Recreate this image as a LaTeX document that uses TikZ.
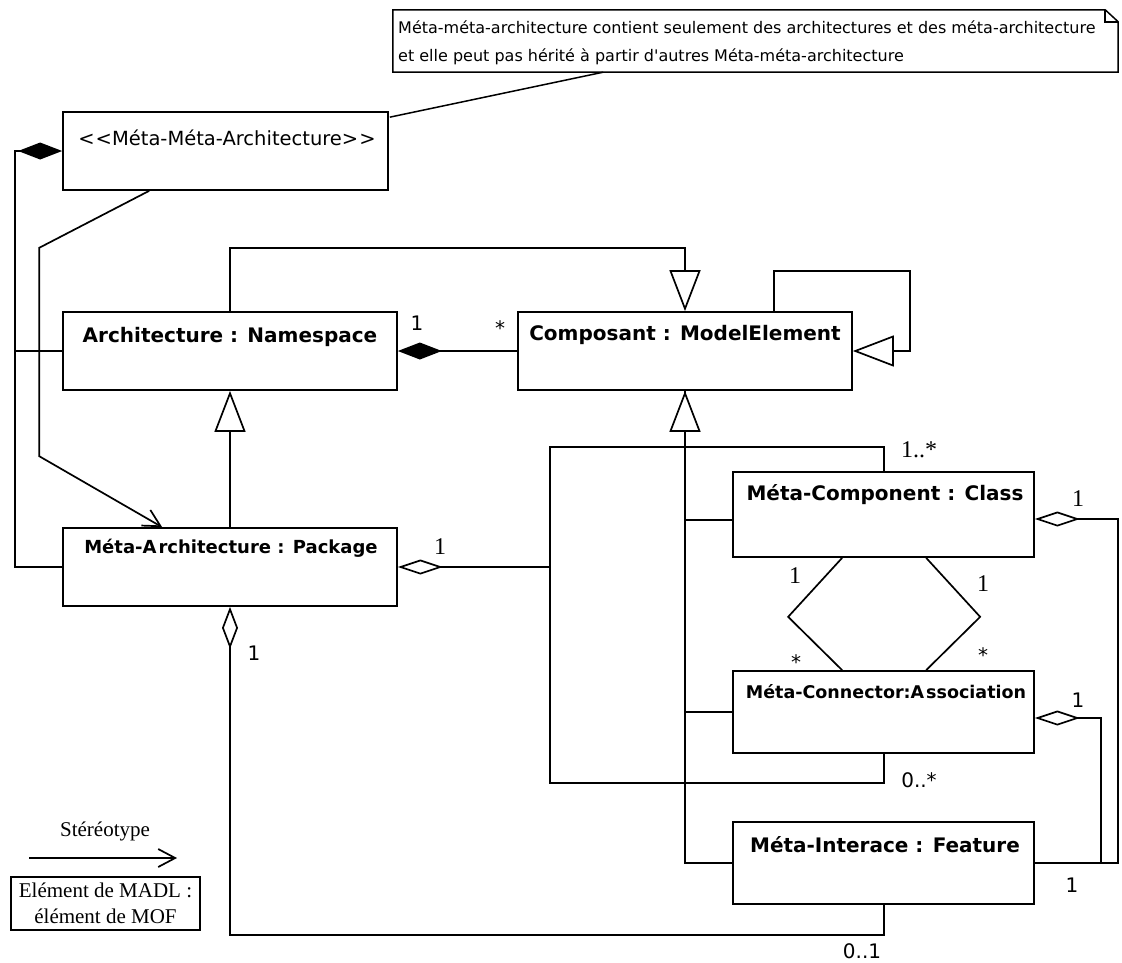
\documentclass[tikz,border=0pt]{standalone}
\usepackage{fontspec}
\newfontfamily\dv{DejaVu Sans}
\newfontfamily\tms{Liberation Serif}
\usetikzlibrary{arrows.meta,calc}
\begin{document}
\begin{tikzpicture}[x=1pt,y=-1pt,
  conn/.style={line width=1.7pt, line join=miter},
  box/.style={draw, line width=1.7pt, fill=white, inner sep=0pt},
  ttl/.style={inner sep=0pt, font=\dv\bfseries\fontsize{20}{24}\selectfont},
  ttls/.style={inner sep=0pt, font=\dv\bfseries\fontsize{17.5}{21}\selectfont},
  lbs/.style={inner sep=0pt, font=\dv\fontsize{20}{24}\selectfont},
  lbr/.style={inner sep=0pt, font=\tms\fontsize{24}{28}\selectfont},
  notet/.style={inner sep=0pt, font=\dv\fontsize{16}{19}\selectfont},
  inh/.style={conn, -{Triangle[length=41pt,width=31pt,fill=white]}},
  compo/.style={conn, {Diamond[length=44pt,width=17pt,fill=black]}-},
  aggr/.style={conn, {Diamond[length=45pt,width=15pt,fill=white]}-},
  aggrv/.style={conn, {Diamond[length=42pt,width=16pt,fill=white]}-},
  stereo/.style={conn, -{Straight Barb[length=17pt,width=18pt]}}
]
\useasboundingbox (0,0) rectangle (1122,962);

% note
\node[inner sep=0pt, minimum width=725, minimum height=62] (note) at (755.5,41) {};
\draw[line width=1.5pt] (note.north west) -- ($(note.north east)+(-13,0)$) -- ($(note.north east)+(0,12)$) -- (note.south east) -- (note.south west) -- cycle;
\draw[line width=1.5pt] ($(note.north east)+(-13,0)$) |- ($(note.north east)+(0,12)$);
\node[notet, anchor=base west] (noteL1) at (398,33) {Méta-méta-architecture contient seulement des architectures et des méta-architecture};
\node[notet, anchor=base west] (noteL2) at (398,61) {et elle peut pas hérité à partir d'autres Méta-méta-architecture};

% classes
\node[box, minimum width=325, minimum height=78] (mma) at (225.5,151) {};
\node[inner sep=0pt, font=\dv\fontsize{19.5}{23}\selectfont] (mmaT) at (227,138) {<\kern1pt<Méta-Méta-Architecture>\kern1pt>};

\node[box, minimum width=334, minimum height=78] (arch) at (230,351) {};
\node[ttl] (archT) at (230,337) {Architecture : Namespace};

\node[box, minimum width=334, minimum height=78] (comp) at (685,351) {};
\node[ttl] (compT) at (685,335) {Composant : ModelElement};

\node[box, minimum width=334, minimum height=78] (marc) at (230,567) {};
\node[inner sep=0pt, font=\dv\bfseries\fontsize{18}{22}\selectfont] (marcT) at (231,548) {Méta-A\kern2pt rchitecture : Package};

\node[box, minimum width=301, minimum height=85] (mcomp) at (883.5,514.5) {};
\node[ttl] (mcompT) at (885,495) {Méta-Component : Class};

\node[box, minimum width=301, minimum height=82] (mconn) at (883.5,712) {};
\node[ttls] (mconnT) at (886,692) {Méta-Connector:A\kern2pt ssociation};

\node[box, minimum width=301, minimum height=82] (mint) at (883.5,863) {};
\node[ttl] (mintT) at (885,845) {Méta-Interace : Feature};

% note link
\draw[line width=1.5pt] ($(note.south west)!0.29!(note.south east)$) -- ($(mma.north east)+(1,6)$);

% composition rail from MMA
\coordinate (railTop) at (15,151);
\draw[compo] (mma.west) -- (railTop) |- (marc.west);
\draw[conn] (railTop |- arch.west) -- (arch.west);

% stereotype link
\draw[stereo] ($(mma.south west)+(87,0)$) -- ($(mma.south west)+(-23,57)$) -- ($(marc.north west)+(-23,-71)$) -- ($(marc.north west)+(100,0)$);

% Architecture -> Composant
\draw[inh] (arch.north) -- ++(0,-63) -| (comp.north);
\draw[compo] (arch.east) -- (comp.west);
\node[lbs] (m1) at (417,323) {1};
\node[lbs] (m2) at (500,328) {*};

% self generalization
\draw[inh] ($(comp.north east)+(-79,0)$) |- ($(comp.north east)+(57,-40)$) |- (comp.east);

% Méta-Architecture -> Architecture
\draw[inh] (marc.north) -- (arch.south);

% aggregation bus
\coordinate (bus) at (550,567);
\draw[aggr] (marc.east) -- (bus);
\draw[conn] (bus) |- ($(mcomp.north west)+(152,-24)$) -- ($(mcomp.north west)+(152,0)$);
\draw[conn] (bus) |- ($(mconn.south west)+(152,29)$) -- ($(mconn.south west)+(152,0)$);
\node[lbr] (m3) at (440,547) {1};
\node[lbr] (m5) at (919,450) {1..*};
\node[lbs] (m12) at (919,780) {0..*};

% generalizations to Composant
\draw[conn] ($(mcomp.west)+(0,5.5)$) -| (comp.south);
\draw[conn] (mconn.west) -| (comp.south);
\draw[inh] (mint.west) -| (comp.south);

% association lines
\draw[conn] ($(mcomp.south west)+(110,0)$) -- ($(mcomp.south west)+(56,59)$) -- ($(mconn.north west)+(110,0)$);
\draw[conn] ($(mcomp.south west)+(194,0)$) -- ($(mcomp.south west)+(248,59)$) -- ($(mconn.north west)+(194,0)$);
\node[lbr] (m7) at (795,576) {1};
\node[lbr] (m8) at (983,584) {1};
\node[lbs] (m9) at (796,662) {*};
\node[lbs] (m10) at (983,655) {*};

% right aggregations
\draw[aggr] ($(mcomp.east)+(0,4.5)$) -- ++(83,0) |- (mint.east);
\draw[aggr] ($(mconn.east)+(0,6)$) -- ++(66,0) |- (mint.east);
\node[lbr] (m6) at (1078,499) {1};
\node[lbs] (m11) at (1078,700) {1};
\node[lbs] (m13) at (1072,885) {1};

% bottom aggregation
\draw[aggrv] (marc.south) |- ($(mint.south west)+(152,30)$) -- ($(mint.south west)+(152,0)$);
\node[lbs] (m4) at (254,653) {1};
\node[lbs] (m14) at (862,951) {0..1};

% legend
\node[inner sep=0pt, anchor=base, font=\tms\fontsize{21}{24}\selectfont] (stereoT) at (105,836) {Stéréotype};
\coordinate (legA) at (29,858);
\coordinate (legB) at (177,858);
\draw[stereo] (legA) -- (legB);
\node[draw, line width=1.3pt, minimum width=189, minimum height=53, inner sep=0pt] (legbox) at (105.5,903.5) {};
\node[inner sep=0pt, align=center, font=\tms\fontsize{21}{26}\selectfont] (legT) at (legbox) {Elément de MADL :\\ élément de MOF};
\end{tikzpicture}
\end{document}
